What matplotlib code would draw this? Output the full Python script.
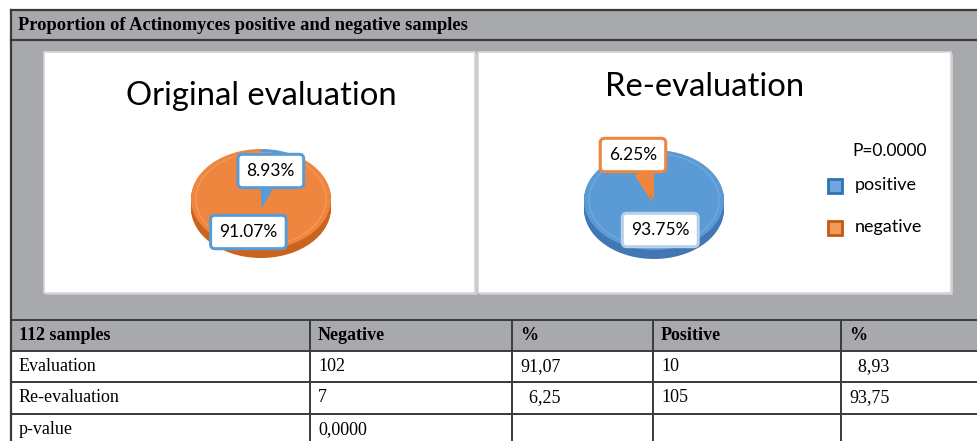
import numpy as np
import matplotlib
matplotlib.use("Agg")
import matplotlib.pyplot as plt
from matplotlib.patches import Rectangle, Ellipse

# ---- data ----
header_title = "Proportion of Actinomyces positive and negative samples"
pie_titles = ["Original evaluation", "Re-evaluation"]
positive_pct = [8.93, 93.75]
negative_pct = [91.07, 6.25]
p_label = "P=0.0000"
legend_labels = ["positive", "negative"]

table_cols = ["112 samples", "Negative", "%", "Positive", "%"]
row_names = ["Evaluation", "Re-evaluation", "p-value"]
negative_n = ["102", "7", "0,0000"]
negative_col_pct = ["91,07", "  6,25", ""]
positive_n = ["10", "105", ""]
positive_col_pct = ["  8,93", "93,75", ""]

BLUE = "#5b9bd5"
BLUE_DARK = "#4277b3"
ORANGE = "#ee8640"
ORANGE_DARK = "#c9631e"
GRAY = "#a7a9ac"
LINE = "#3a3a3a"

W, H = 977, 441
fig = plt.figure(figsize=(W / 100, H / 100), dpi=100)
bg = fig.add_axes([0, 0, 1, 1])
bg.set_xlim(0, W)
bg.set_ylim(H, 0)
bg.axis("off")

serif = "Liberation Serif"
sans = "Lato"

# outer gray frame
bg.add_patch(Rectangle((11, 10), W - 11, 341, fc=GRAY, ec="none"))
bg.plot([11, W], [10, 10], color=LINE, lw=1.6)
bg.plot([11, W], [40, 40], color=LINE, lw=1.6)
bg.plot([11, 11], [10, H], color=LINE, lw=1.6)
bg.text(18, 26, header_title, fontfamily=serif, fontweight="bold", fontsize=13.3,
        va="center", ha="left")

# white chart panels
for x0, x1 in [(44, 475), (478, 951)]:
    bg.add_patch(Rectangle((x0 + 2, 54), x1 - x0, 241, fc="#c9cacc", ec="none"))
    bg.add_patch(Rectangle((x0, 52), x1 - x0, 241, fc="white", ec="#d6d6d6", lw=1.2))

# table
col_x = [11, 310, 512, 653, 841, W + 5]
row_y = [320, 351, 382, 414, H + 5]
for y in row_y[:-1]:
    bg.plot([11, W], [y, y], color=LINE, lw=1.4)
for x in col_x[:-1]:
    bg.plot([x, x], [320, H], color=LINE, lw=1.4)
bg.add_patch(Rectangle((11, 351), W - 11, H - 351, fc="white", ec="none", zorder=0))

for j, name in enumerate(table_cols):
    bg.text(col_x[j] + 8, (row_y[0] + row_y[1]) / 2, name, fontfamily=serif,
            fontweight="bold", fontsize=13, va="center", ha="left")
body = [row_names, negative_n, negative_col_pct, positive_n, positive_col_pct]
for j, col in enumerate(body):
    for i, val in enumerate(col):
        bg.text(col_x[j] + 8, (row_y[i + 1] + row_y[i + 2]) / 2, val,
                fontfamily=serif, fontsize=13, va="center", ha="left")


def px_axes(cx, cy, w, h):
    return fig.add_axes([(cx - w / 2) / W, 1 - (cy + h / 2) / H, w / W, h / H])


SX, SY = 70.0, 50.0  # pixels per data unit for the flattened pies
pie_centers = [(261, 199), (654, 200)]
label_specs = [
    # (pointer-label pos, pointer tip, pointer colour, border), (main label pos, border)
    [((0.14, 0.56), (0.01, -0.18), BLUE, BLUE), ((-0.18, -0.66), BLUE)],
    [((-0.30, 0.90), (-0.03, -0.04), ORANGE, ORANGE), ((0.09, -0.60), "#b9d0ea")],
]

for k in range(2):
    cx, cy = pie_centers[k]
    ax = px_axes(cx, cy, 3.2 * SX, 3.2 * SY)
    vals = [positive_pct[k], negative_pct[k]]
    for dy in np.linspace(-0.18, -0.02, 10):
        ax.pie(vals, colors=[BLUE_DARK, ORANGE_DARK], startangle=90,
               counterclock=False, center=(0, dy), radius=1,
               wedgeprops=dict(linewidth=0))
    ax.pie(vals, colors=[BLUE, ORANGE], startangle=90, counterclock=False,
           radius=1, wedgeprops=dict(linewidth=0))
    rim = "#f6a66e" if k == 0 else "#7fb2e2"
    ax.add_patch(Ellipse((0, 0), 1.86, 1.86, fill=False, ec=rim, lw=0.8, alpha=0.7))
    ax.set_aspect("auto")
    ax.set_xlim(-1.6, 1.6)
    ax.set_ylim(-1.6, 1.6)
    ax.axis("off")

    (lp, tip, pc, bc), (mp, mbc) = label_specs[k]
    small = min(vals)
    big = max(vals)
    ax.annotate(f"{small:.2f}%", xy=tip, xytext=lp, ha="center", va="center",
                fontfamily=sans, fontsize=12.5,
                bbox=dict(boxstyle="round,pad=0.5,rounding_size=0.25", fc="white",
                          ec=bc, lw=2.2),
                arrowprops=dict(arrowstyle="wedge,tail_width=0.7,shrink_factor=0.5",
                                fc=pc, ec="none", shrinkA=0, shrinkB=0))
    ax.text(mp[0], mp[1], f"{big:.2f}%", ha="center", va="center",
            fontfamily=sans, fontsize=12.5,
            bbox=dict(boxstyle="round,pad=0.5,rounding_size=0.25", fc="white",
                      ec=mbc, lw=2.2))

# titles
bg.text(261, 96, pie_titles[0], fontfamily=sans, fontsize=23.6, ha="center", va="center")
bg.text(705, 87, pie_titles[1], fontfamily=sans, fontsize=23.6, ha="center", va="center")

# legend
bg.text(852, 151, p_label, fontfamily=sans, fontsize=12.5, ha="left", va="center")
for i, (lab, fc, ec) in enumerate(zip(legend_labels, ["#6fa6dc", "#f19a5e"],
                                      ["#2e74b5", "#c55a11"])):
    y = 186 + 42 * i
    bg.add_patch(Rectangle((828, y - 7), 14, 14, fc=fc, ec=ec, lw=2))
    bg.text(855, y - 1, lab, fontfamily=sans, fontsize=13, ha="left", va="center")

fig.savefig("out.png", dpi=100)
